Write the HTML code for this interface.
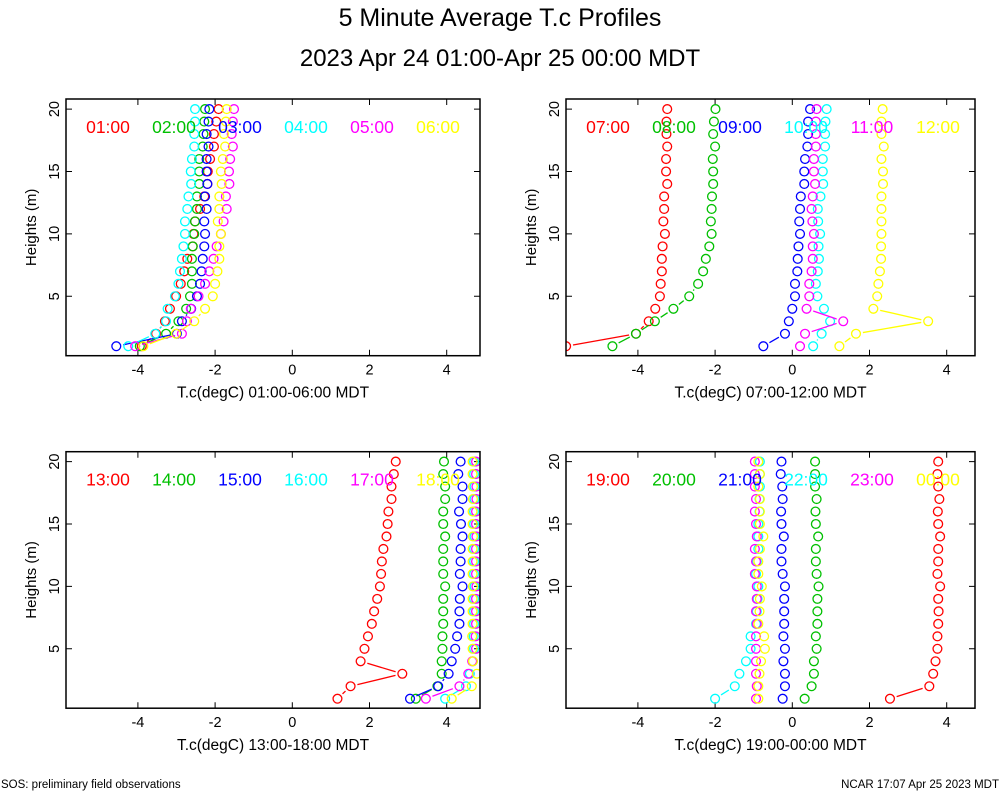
<!DOCTYPE html>
<html><head><meta charset="utf-8"><style>
html,body{margin:0;padding:0;background:#fff;}
svg{display:block;font-family:"Liberation Sans",sans-serif;}
</style></head><body>
<svg id="chart" width="1000" height="800" viewBox="0 0 1000 800">
<text x="500" y="26" font-size="25" text-anchor="middle">5 Minute Average T.c Profiles</text>
<text x="500" y="66" font-size="24" text-anchor="middle">2023 Apr 24 01:00-Apr 25 00:00 MDT</text>
<text x="1" y="788" font-size="11.5">SOS: preliminary field observations</text>
<text x="999" y="788" font-size="11.5" text-anchor="end">NCAR 17:07 Apr 25 2023 MDT</text>
</svg>
<script>
const heights=[20,19,18,17,16,15,14,13,12,11,10,9,8,7,6,5,4,3,2,1];
const xTicks=[-4,-2,0,2,4];
const yTicks=[5,10,15,20];
const colors=["#ff0000","#00c000","#0000ff","#00ffff","#ff00ff","#ffff00"];
const labels1=["01:00","02:00","03:00","04:00","05:00","06:00"];
const labels2=["07:00","08:00","09:00","10:00","11:00","12:00"];
const labels3=["13:00","14:00","15:00","16:00","17:00","18:00"];
const labels4=["19:00","20:00","21:00","22:00","23:00","00:00"];
const p1s1=[-1.91,-1.97,-2.03,-2.03,-2.13,-2.19,-2.2,-2.28,-2.39,-2.52,-2.56,-2.58,-2.72,-2.8,-2.89,-3.01,-3.17,-3.3,-3.53,-3.9];
const p1s2=[-2.26,-2.28,-2.3,-2.32,-2.41,-2.41,-2.41,-2.47,-2.47,-2.52,-2.54,-2.58,-2.6,-2.6,-2.6,-2.65,-2.75,-2.95,-3.27,-3.95];
const p1s3=[-2.15,-2.17,-2.22,-2.17,-2.22,-2.22,-2.2,-2.26,-2.22,-2.28,-2.26,-2.28,-2.32,-2.35,-2.39,-2.47,-2.62,-2.86,-2.99,-4.56];
const p1s4=[-2.52,-2.52,-2.54,-2.54,-2.6,-2.63,-2.62,-2.69,-2.72,-2.78,-2.78,-2.82,-2.86,-2.91,-2.95,-3.04,-3.23,-3.27,-3.55,-4.25];
const p1s5=[-1.51,-1.54,-1.57,-1.54,-1.61,-1.64,-1.63,-1.72,-1.7,-1.78,-1.85,-1.96,-2.04,-2.15,-2.26,-2.43,-2.63,-2.73,-2.86,-4.07];
const p1s6=[-1.7,-1.72,-1.77,-1.74,-1.8,-1.85,-1.83,-1.89,-1.89,-1.93,-1.85,-1.89,-1.89,-1.94,-2.0,-2.06,-2.26,-2.54,-3.01,-3.86];
const p2s1=[-3.24,-3.26,-3.26,-3.24,-3.27,-3.27,-3.24,-3.32,-3.32,-3.34,-3.3,-3.36,-3.38,-3.38,-3.41,-3.43,-3.55,-3.72,-4.05,-5.86];
const p2s2=[-1.99,-2.03,-2.05,-2.0,-2.06,-2.05,-2.05,-2.08,-2.09,-2.11,-2.09,-2.15,-2.24,-2.31,-2.44,-2.67,-3.08,-3.56,-4.05,-4.66];
const p2s3=[0.46,0.41,0.41,0.39,0.33,0.31,0.31,0.22,0.2,0.18,0.2,0.16,0.14,0.13,0.07,0.07,0.0,-0.09,-0.19,-0.75];
const p2s4=[0.89,0.86,0.85,0.85,0.79,0.79,0.8,0.73,0.66,0.67,0.72,0.68,0.69,0.66,0.61,0.65,0.82,0.98,0.76,0.54];
const p2s5=[0.63,0.61,0.61,0.61,0.56,0.56,0.59,0.53,0.5,0.52,0.56,0.53,0.53,0.5,0.44,0.44,0.37,1.32,0.33,0.2];
const p2s6=[2.34,2.31,2.31,2.37,2.31,2.35,2.35,2.31,2.31,2.31,2.31,2.3,2.3,2.27,2.23,2.2,2.1,3.52,1.65,1.22];
const p3s1=[2.68,2.63,2.57,2.57,2.49,2.47,2.44,2.36,2.32,2.3,2.27,2.2,2.12,2.06,1.96,1.87,1.77,2.85,1.51,1.17];
const p3s2=[3.93,3.91,3.96,3.96,3.91,3.91,3.96,3.91,3.91,3.91,3.96,3.91,3.91,3.91,3.89,3.89,3.87,3.87,3.76,3.2];
const p3s3=[4.36,4.3,4.41,4.41,4.32,4.37,4.41,4.36,4.36,4.34,4.41,4.34,4.33,4.33,4.27,4.22,4.13,4.05,3.78,3.05];
const p3s4=[4.71,4.71,4.72,4.72,4.71,4.71,4.72,4.71,4.71,4.71,4.72,4.71,4.71,4.71,4.7,4.71,4.68,4.6,4.5,3.96];
const p3s5=[4.76,4.76,4.77,4.77,4.76,4.76,4.77,4.76,4.76,4.76,4.77,4.76,4.76,4.76,4.75,4.76,4.66,4.56,4.33,3.46];
const p3s6=[4.67,4.67,4.68,4.68,4.67,4.67,4.68,4.67,4.67,4.67,4.68,4.67,4.67,4.67,4.66,4.67,4.68,4.78,4.65,4.13];
const p4s1=[3.78,3.76,3.78,3.81,3.77,3.78,3.83,3.78,3.78,3.76,3.83,3.78,3.79,3.78,3.76,3.76,3.71,3.65,3.55,2.53];
const p4s2=[0.59,0.59,0.59,0.63,0.6,0.61,0.67,0.61,0.61,0.63,0.68,0.65,0.65,0.65,0.61,0.63,0.56,0.56,0.5,0.32];
const p4s3=[-0.28,-0.3,-0.26,-0.25,-0.29,-0.28,-0.22,-0.28,-0.28,-0.25,-0.19,-0.21,-0.21,-0.21,-0.23,-0.19,-0.23,-0.19,-0.19,-0.25];
const p4s4=[-0.84,-0.84,-0.84,-0.85,-0.85,-0.88,-0.88,-0.88,-0.92,-0.94,-0.88,-0.9,-0.92,-0.94,-1.08,-1.08,-1.2,-1.37,-1.49,-2.0];
const p4s5=[-0.97,-0.97,-0.97,-0.94,-0.97,-0.94,-0.92,-0.97,-0.94,-0.97,-0.92,-0.92,-0.94,-0.92,-0.94,-0.94,-0.94,-0.94,-0.92,-0.94];
const p4s6=[-0.88,-0.84,-0.88,-0.84,-0.84,-0.84,-0.75,-0.84,-0.88,-0.88,-0.79,-0.84,-0.85,-0.88,-0.73,-0.71,-0.81,-0.85,-0.88,-0.88];

const NS="http://www.w3.org/2000/svg";
const svg=document.getElementById("chart");
function mk(tag,attrs,parent){const e=document.createElementNS(NS,tag);for(const k in attrs)e.setAttribute(k,attrs[k]);(parent||svg).appendChild(e);return e;}

const panels=[
 {L:66,R:480,T:99,B:355.7,zeroY:358.7,labels:labels1,series:[p1s1,p1s2,p1s3,p1s4,p1s5,p1s6],xlab:"T.c(degC) 01:00-06:00 MDT"},
 {L:566,R:975,T:99,B:355.7,zeroY:358.7,labels:labels2,series:[p2s1,p2s2,p2s3,p2s4,p2s5,p2s6],xlab:"T.c(degC) 07:00-12:00 MDT"},
 {L:66,R:480,T:451.7,B:708.2,zeroY:711.2,labels:labels3,series:[p3s1,p3s2,p3s3,p3s4,p3s5,p3s6],xlab:"T.c(degC) 13:00-18:00 MDT"},
 {L:566,R:975,T:451.7,B:708.2,zeroY:711.2,labels:labels4,series:[p4s1,p4s2,p4s3,p4s4,p4s5,p4s6],xlab:"T.c(degC) 19:00-00:00 MDT"}
];
panels.forEach((p,pi)=>{
  const x0=p.L+226.3;
  const xs=v=>x0+38.6*v;
  const ys=h=>p.zeroY-12.48*h;
  const g=mk("g",{});
  
  
  const cid="clip"+pi;
  const cp=mk("clipPath",{id:cid},g);mk("rect",{x:p.L,y:p.T,width:p.R-p.L,height:p.B-p.T},cp);
  xTicks.forEach(t=>{
    const x=xs(t);
    const tk=mk("path",{d:`M${x},${p.B}v-6M${x},${p.T}v6`,stroke:"#000","stroke-width":1},g);
    
    
    const tl=mk("text",{x:x,y:p.B+19,"font-size":14.5,"text-anchor":"middle"},g);tl.textContent=t;
    
    
  });
  yTicks.forEach(t=>{
    const y=ys(t);
    const tk=mk("path",{d:`M${p.L},${y}h6M${p.R},${y}h-6`,stroke:"#000","stroke-width":1},g);
    
    
    const tl=mk("text",{x:p.L-11,y:y,"font-size":14.5,"text-anchor":"middle",transform:`rotate(-90 ${p.L-11} ${y})`,"dominant-baseline":"middle"},g);
    tl.textContent=t;
    
    
  });
  const yl=mk("text",{x:0,y:0,"font-size":15,"text-anchor":"middle",transform:`translate(${p.L-30},${(p.T+p.B)/2}) rotate(-90)`},g);
  yl.textContent="Heights (m)";
  
  
  const xl=mk("text",{x:(p.L+p.R)/2,y:p.B+42,"font-size":15.5,"text-anchor":"middle"},g);
  xl.textContent=p.xlab;
  
  
  const sg=mk("g",{"clip-path":`url(#${cid})`},g);
  p.series.forEach((vals,si)=>{
    const col=colors[si];
    const ser=mk("g",{stroke:col,fill:"none","stroke-width":1.3},sg);
    
    
    for(let i=0;i<vals.length-1;i++){
      const ax=xs(vals[i]),ay=ys(heights[i]),bx=xs(vals[i+1]),by=ys(heights[i+1]);
      const dx=bx-ax,dy=by-ay,len=Math.hypot(dx,dy),gap=7;
      if(len>2*gap+1){
        const ux=dx/len,uy=dy/len;
        const ln=mk("line",{x1:ax+ux*gap,y1:ay+uy*gap,x2:bx-ux*gap,y2:by-uy*gap},ser);
        
        
      }
    }
    vals.forEach((v,i)=>{
      const c=mk("circle",{cx:xs(v),cy:ys(heights[i]),r:4.4},ser);
      
      
    });
  });
  p.labels.forEach((lab,si)=>{
    const t=mk("text",{x:p.L+42+66*si,y:p.T+34,"font-size":17.5,"text-anchor":"middle",fill:colors[si]},g);
    t.textContent=lab;
    
    
  });
  const fr=mk("rect",{x:p.L,y:p.T,width:p.R-p.L,height:p.B-p.T,fill:"none",stroke:"#000","stroke-width":1.5},g);
  
  
});
</script>
</body></html>
